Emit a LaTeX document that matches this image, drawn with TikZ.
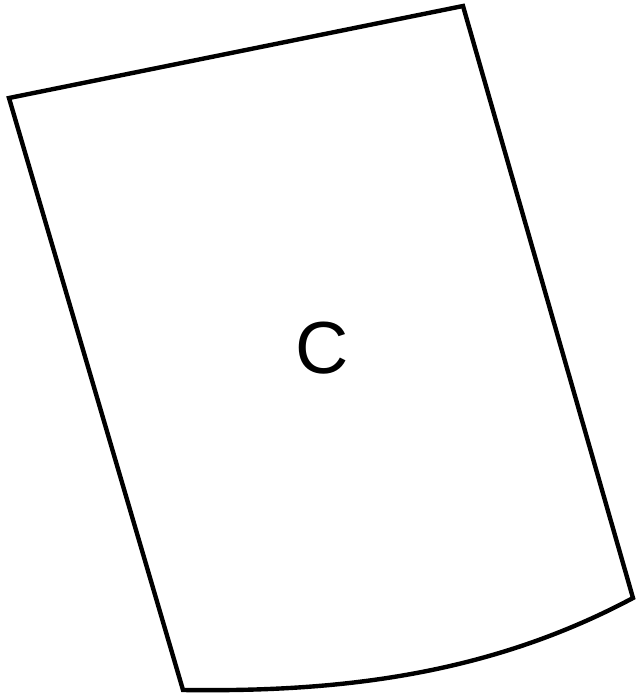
\documentclass[tikz,border=0pt]{standalone}
\usepackage{fontspec}
\setmainfont{Liberation Sans}
\usepackage{tikz}

\begin{document}
\begin{tikzpicture}[x=0.02cm,y=-0.02cm,line join=miter]
\useasboundingbox (0,0) rectangle (636,700);
\draw[line width=2.5pt] (9,98) -- (463,6) -- (633,598)
  .. controls (483,678) and (330,692) .. (183,690) -- cycle;
\node[font=\fontsize{42}{50}\selectfont,inner sep=0pt] (lbl) at (322,348) {C};
\end{tikzpicture}
\end{document}
